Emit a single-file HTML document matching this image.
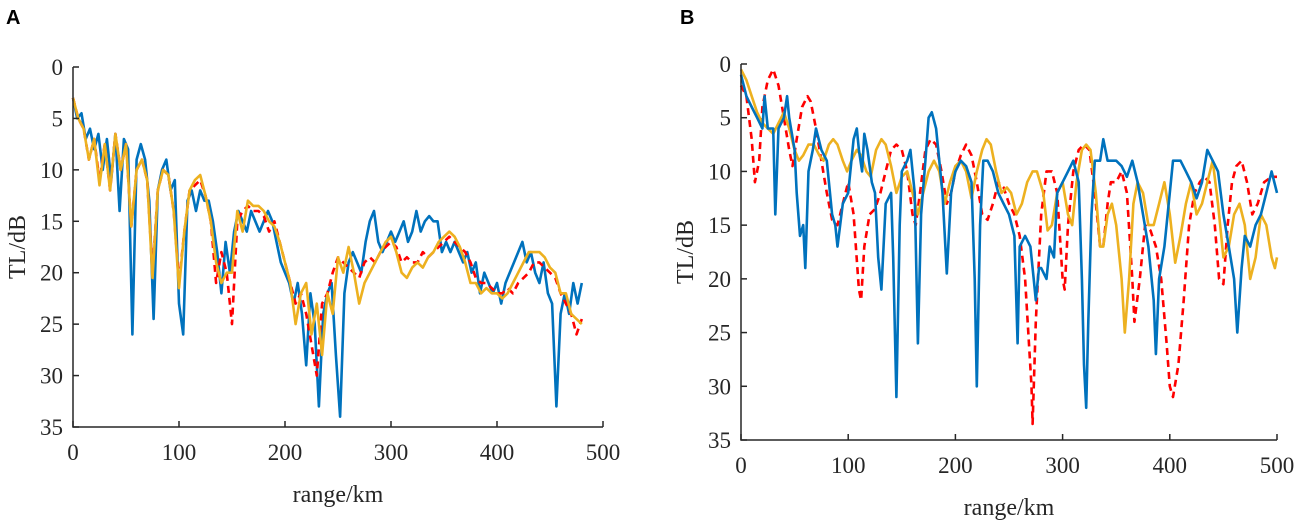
<!DOCTYPE html>
<html><head><meta charset="utf-8"><style>
body{margin:0;background:#fff;}
svg{display:block;font-family:"Liberation Serif",serif;}
.pl{font-family:"Liberation Sans",sans-serif;font-weight:bold;font-size:20px;}
</style></head><body>
<svg id="chart" width="1299" height="526" viewBox="0 0 1299 526" xmlns="http://www.w3.org/2000/svg">
<text class="pl" x="6" y="24">A</text>
<text class="pl" x="680" y="24">B</text>
<g id="pa"></g>
<g id="pb"></g>
</svg>
<script>
const xTicks=[0,100,200,300,400,500];
const yTicks=[0,5,10,15,20,25,30,35];
// Panel A
const aBlueR=[0,4,8,12,16,20,24,28,32,36,40,44,48,52,56,60,64,68,72,76,80,84,88,92,96,100,104,108,112,116,120,124,128,132,136,140,144,148,152,156,160,164,168,172,176,180,184,188,192,196,200,204,208,212,216,220,224,228,232,236,240,244,248,252,256,260,264,268,272,276,280,284,288,292,296,300,304,308,312,316,320,324,328,332,336,340,344,348,352,356,360,364,368,372,376,380,384,388,392,396,400,404,408,412,416,420,424,428,432,436,440,444,448,452,456,460,464,468,472,476,480];
const aBlueV=[3,5,4.5,7,6,8,6.5,10,7,11,6.5,14,7,8,26,9,7.5,9,13,24.5,12,10,9,12,11,23,26,13,12,14,12,13,13,15,18,22,17,20,16,14,15,16,14,15,16,15,14,15,17,19,20,21,23,21,24,29,22,25,33,24,22,21,28,34,22,19,18,19,20,17,15,14,17,18,17,16,17,16,15,17,16,14,16,15,14.5,15,15,18,17,18,17,18,19,18,20,19,22,20,21,22,21,23,21,20,19,18,17,19,18,20,21,19,22,23,33,24,22,24,21,23,21];
const aRedR=[0,5,10,15,20,25,30,35,40,45,50,55,60,65,70,75,80,85,90,95,100,105,110,115,120,125,130,135,140,145,150,155,160,165,170,175,180,185,190,195,200,205,210,215,220,225,230,235,240,245,250,255,260,265,270,275,280,285,290,295,300,305,310,315,320,325,330,335,340,345,350,355,360,365,370,375,380,385,390,395,400,405,410,415,420,425,430,435,440,445,450,455,460,465,470,475,480];
const aRedV=[3,5,6,9,7,11,7.5,12,6.5,10,7.5,15.5,10,9,11,20,12,10,10.5,14,21,16,12,11.5,11,12.5,15,21,18,20,25,15,14,13.5,14,14,14.5,16,15,17,19,21,23,22,24,27,30,23,22,20,18.5,19,19.5,20,20.5,19,18.5,19,18,17.5,17,17.5,19,18.5,19,19,18,18.5,18,17.5,17,16.5,17,17.5,18,19,20.5,21,21,21.5,22,22,21.5,22,21,20.5,20,19,19,19.5,20,20.5,22,23,24,26,24.5];
const aOrgR=aRedR;
const aOrgV=[3,5,6,9,7,11.5,7.5,12,6.5,10,7.5,15.5,10,9,11,20.5,12,10,10.5,14,21.5,16,12,11,10.5,12.5,15,19,21,20,20,14,16,13,13.5,13.5,14,15,15.5,17,19,21,25,22,21,26,23,28,22,24,18.5,20,17.5,20,23,21,20,19,18,17,16.5,18,20,20.5,19.5,19,19.5,18.5,18,17,16.5,16,16.5,17.5,19,21,21,22,21.5,22,22,22.5,22,21,20,19,18,18,18,18.5,19.5,20,22,22,24,24.5,25];
// Panel B
const bBlueR=[0,5,10,15,20,22,25,30,32,35,40,43,45,50,52,55,58,60,63,67,70,75,80,85,88,90,95,100,105,108,110,113,115,118,122,125,128,131,135,140,142,145,148,150,155,158,162,165,168,172,175,178,182,185,188,192,196,200,205,210,215,218,220,223,226,230,235,240,245,250,255,258,260,265,270,273,275,278,280,285,288,292,295,300,305,310,315,318,320,322,324,327,330,335,338,342,350,355,360,365,370,375,380,385,387,390,395,400,403,410,415,420,425,430,435,440,445,450,455,460,463,467,470,475,480,485,490,495,500];
const bBlueV=[1,3,4,5,6,3,6,6,14,6,5,3,5,8,12,16,15,19,10,8,6,8,9,14,15,17,13,12,7,6,8,10,6.5,8,11,12,18,21,13,12,18,31,15,10,9,8,12,26,14,9,5,4.5,6,9,12,19.5,12,10,9,9.5,11,20,30,15,9,9,10,12,13,14,16,26,17,16,17,20,22,19,19,20,17,18,12,11,10,9,11,20,28,32,24,14,9,9,7,9,9,9.5,10.5,9,11,14,17,22,27,20,17,12,9,9,10,11,12.5,11,8,9,10,14,17,20,25,19,16,17,15,14,12,10,12];
const bRedR=[0,5,10,13,17,20,25,30,35,40,45,48,52,57,62,65,70,75,80,85,90,95,100,105,110,112,115,120,125,130,135,140,145,150,155,160,163,167,172,177,182,187,192,196,200,205,210,215,220,225,230,235,240,245,250,255,260,265,268,271,272,275,280,285,290,295,300,302,305,310,315,320,325,330,335,338,342,345,350,355,360,365,367,372,377,382,387,392,397,400,403,408,413,418,423,428,432,437,442,446,450,454,458,462,467,472,477,482,488,495,500];
const bRedV=[2,3,7,11,9,4,1.5,0.5,2,5,8,9.5,7,4,3,3.5,6,9,12,14.5,15,13,11,14,21,22,17,14,13.5,12,10,8,7.5,8,10,14,15,12,8,7,7.5,10,13,12,10,8.5,7.5,8.5,11,14,14.5,13,11,11.5,13,14,16,20,25,30,33.5,24,14,10,10,12,20,21,15,10,8,7.5,8,12,17,17,13,11,11,10,12,20,24,20,15,15.5,17,20,26,30,31,28,22,15,12,11,10.5,11,15,20,20.5,15,11,9.5,9,11,14,13,11,10.5,10.5];
const bOrgR=[0,5,10,15,20,25,30,35,40,45,50,54,58,63,68,73,77,82,86,90,95,99,103,108,112,117,121,126,131,135,140,145,150,155,160,165,170,175,180,185,190,195,200,205,210,215,220,225,229,233,238,243,248,252,257,262,267,272,276,282,286,290,295,300,305,309,313,318,322,326,331,335,338,342,346,350,355,358,362,366,370,375,380,385,390,395,400,405,410,415,420,425,430,435,440,445,450,455,460,465,470,475,480,485,490,495,498,500];
const bOrgV=[0.5,1.5,3,4.5,5.5,6,6.5,5.5,4.5,6,8,9,8.5,7.5,7.5,8.5,9,7.5,7,7.5,9,10,9,8,8.5,10,10.5,8,7,7.5,9.5,12,10.5,10,12,14,12,10,9,10,13,11,9.5,9,10,12.5,10,8,7,7.5,10,12,11.5,12,14,13,11,10,10,12,15.5,15,12,11,14,15,11,8,7.5,8,12,17,17,14,13,15,20,25,20,13,11,12,15,15,13,11,14,18.5,16,13,11,14,13,11,9,13,18,17,14,13,15,20,18,14,15,18,19,18];

const NS='http://www.w3.org/2000/svg';
function mk(tag,attrs,parent){const e=document.createElementNS(NS,tag);for(const k in attrs)e.setAttribute(k,attrs[k]);parent.appendChild(e);return e;}

function panel(g,cfg){
  const sx=v=>cfg.x0+(cfg.x1-cfg.x0)*v/500;
  const sy=v=>cfg.y0+(cfg.y1-cfg.y0)*v/35;
  const series=[
    {r:cfg.blueR,v:cfg.blueV,c:'#0072BD',d:null,n:'blue-series'},
    {r:cfg.redR,v:cfg.redV,c:'#FF0000',d:'7,5',n:'red-dashed-series'},
    {r:cfg.orgR,v:cfg.orgV,c:'#EDB120',d:null,n:'orange-series'}];
  for(const s of (cfg.order||[0,1,2]).map(i=>series[i])){
    let d='';s.r.forEach((r,i)=>{d+=(i?'L':'M')+sx(r).toFixed(1)+','+sy(s.v[i]).toFixed(1);});
    const p=mk('path',{d:d,fill:'none',stroke:s.c,'stroke-width':2.6,'stroke-linejoin':'round'},g);
    if(s.d)p.setAttribute('stroke-dasharray',s.d);
    
    
  }
  const ax=mk('path',{d:`M${cfg.x0},${cfg.y0}V${cfg.y1}H${cfg.x1}`,fill:'none',stroke:'#262626','stroke-width':1.5},g);
  
  
  xTicks.forEach(t=>{
    mk('line',{x1:sx(t),x2:sx(t),y1:cfg.y1,y2:cfg.y1-6,stroke:'#262626','stroke-width':1.5},g);
    const tx=mk('text',{x:sx(t),y:cfg.y1+33,'text-anchor':'middle','font-size':23,fill:'#262626'},g);
    tx.textContent=t;
    
    
  });
  yTicks.forEach(t=>{
    mk('line',{x1:cfg.x0,x2:cfg.x0+6,y1:sy(t),y2:sy(t),stroke:'#262626','stroke-width':1.5},g);
    const tx=mk('text',{x:cfg.x0-10,y:sy(t)+8,'text-anchor':'end','font-size':23,fill:'#262626'},g);
    tx.textContent=t;
    
    
  });
  const xt=mk('text',{x:(cfg.x0+cfg.x1)/2,y:cfg.y1+75,'text-anchor':'middle','font-size':24,fill:'#262626'},g);
  xt.textContent='range/km';
  
  
  const yx=cfg.x0-48,yy=(cfg.y0+cfg.y1)/2;
  const yt=mk('text',{x:yx,y:yy,'text-anchor':'middle','font-size':24,fill:'#262626',transform:`rotate(-90 ${yx} ${yy})`},g);
  yt.textContent='TL/dB';
  
  
}
panel(document.getElementById('pa'),{x0:73,x1:603,y0:67,y1:427,blueR:aBlueR,blueV:aBlueV,redR:aRedR,redV:aRedV,orgR:aOrgR,orgV:aOrgV});
panel(document.getElementById('pb'),{x0:741,x1:1277,y0:64,y1:440,blueR:bBlueR,blueV:bBlueV,redR:bRedR,redV:bRedV,orgR:bOrgR,orgV:bOrgV,order:[1,2,0]});
</script>
</body></html>
